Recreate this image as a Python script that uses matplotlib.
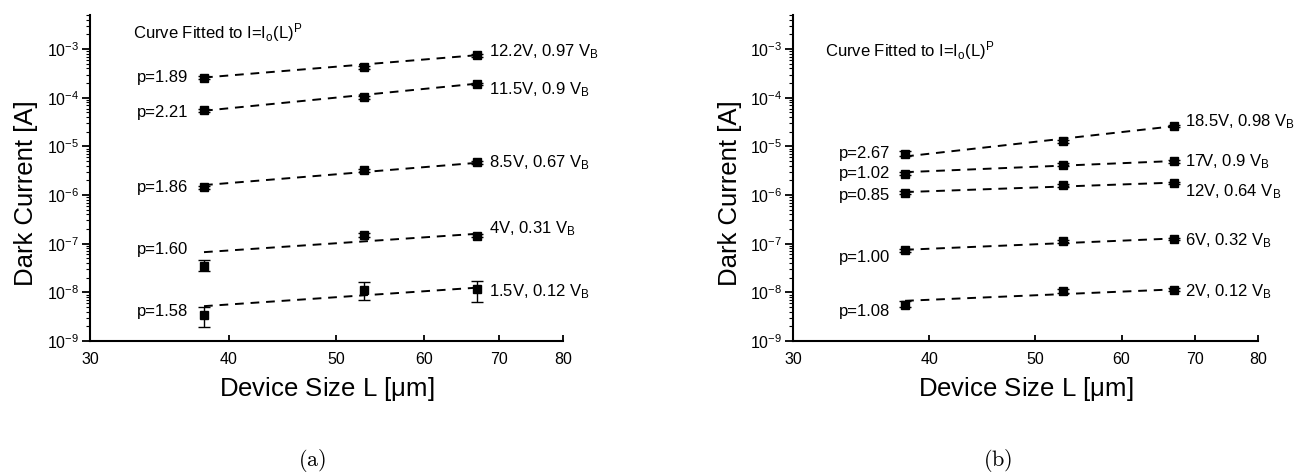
import numpy as np
import matplotlib
matplotlib.use("Agg")
import matplotlib.pyplot as plt
from matplotlib.ticker import FixedLocator, FixedFormatter, LogLocator, NullLocator, LogFormatterMathtext, NullFormatter

plt.rcParams['font.family'] = ['Liberation Sans', 'DejaVu Sans']
plt.rcParams['mathtext.fontset'] = 'custom'
plt.rcParams['mathtext.rm'] = 'Liberation Sans'
plt.rcParams['mathtext.it'] = 'Liberation Sans'
plt.rcParams['mathtext.bf'] = 'Liberation Sans'

# ---------------- data ----------------
sizes = [38, 53, 67]
x_ticks = [30, 40, 50, 60, 70, 80]

# panel (a)
a_labels = ["12.2V, 0.97 V", "11.5V, 0.9 V", "8.5V, 0.67 V", "4V, 0.31 V", "1.5V, 0.12 V"]
a_p = ["p=1.89", "p=2.21", "p=1.86", "p=1.60", "p=1.58"]
a_I = [[2.6e-4, 4.2e-4, 7.4e-4],
       [5.5e-5, 1.02e-4, 1.9e-4],
       [1.45e-6, 3.2e-6, 4.7e-6],
       [3.5e-8, 1.5e-7, 1.45e-7],
       [3.4e-9, 1.1e-8, 1.15e-8]]
a_lo = [[2.4e-4, 3.9e-4, 6.9e-4],
        [5.1e-5, 0.95e-4, 1.8e-4],
        [1.35e-6, 3.0e-6, 4.4e-6],
        [2.7e-8, 1.35e-7, 1.35e-7],
        [1.9e-9, 7.0e-9, 6.4e-9]]
a_hi = [[2.8e-4, 4.5e-4, 7.9e-4],
        [5.9e-5, 1.09e-4, 2.0e-4],
        [1.55e-6, 3.4e-6, 5.0e-6],
        [4.6e-8, 1.65e-7, 1.55e-7],
        [5.0e-9, 1.6e-8, 1.7e-8]]
a_fit = [[2.6e-4, 7.5e-4],
         [5.4e-5, 1.95e-4],
         [1.6e-6, 4.6e-6],
         [6.7e-8, 1.6e-7],
         [5.2e-9, 1.25e-8]]

# panel (b)
b_labels = ["18.5V, 0.98 V", "17V, 0.9 V", "12V, 0.64 V", "6V, 0.32 V", "2V, 0.12 V"]
b_p = ["p=2.67", "p=1.02", "p=0.85", "p=1.00", "p=1.08"]
b_I = [[7.1e-6, 1.27e-5, 2.65e-5],
       [2.75e-6, 4.2e-6, 4.9e-6],
       [1.12e-6, 1.58e-6, 1.78e-6],
       [7.3e-8, 1.12e-7, 1.27e-7],
       [5.6e-9, 1.07e-8, 1.14e-8]]
b_lo = [[6.3e-6, 1.18e-5, 2.5e-5],
        [2.55e-6, 3.95e-6, 4.65e-6],
        [1.03e-6, 1.48e-6, 1.68e-6],
        [6.8e-8, 1.04e-7, 1.2e-7],
        [4.9e-9, 9.8e-9, 1.06e-8]]
b_hi = [[8.0e-6, 1.37e-5, 2.8e-5],
        [2.95e-6, 4.45e-6, 5.15e-6],
        [1.21e-6, 1.68e-6, 1.88e-6],
        [7.8e-8, 1.2e-7, 1.34e-7],
        [6.5e-9, 1.17e-8, 1.22e-8]]
b_fit = [[6.2e-6, 2.6e-5],
         [2.95e-6, 5.0e-6],
         [1.15e-6, 1.8e-6],
         [7.5e-8, 1.28e-7],
         [6.7e-9, 1.15e-8]]

# label offsets (log10 shift of text relative to first/last point)
a_p_off = [0.0, -0.05, 0.0, 0.33, 0.08]
a_lab_off = [0.08, -0.12, 0.0, 0.15, -0.05]
b_p_off = [0.0, 0.0, -0.05, -0.15, -0.15]
b_lab_off = [0.08, 0.0, -0.18, -0.05, -0.05]

fig = plt.figure(figsize=(12.99, 4.72), dpi=100)
axA = fig.add_axes([90/1299, 1-341/472, (563-90)/1299, (341-15)/472])
axB = fig.add_axes([793/1299, 1-341/472, (1258-793)/1299, (341-15)/472])


def draw(ax, I, lo, hi, fit, plabels, vlabels, p_off, lab_off):
    for k in range(len(I)):
        y = np.array(I[k])
        yerr = [y - np.array(lo[k]), np.array(hi[k]) - y]
        ax.plot([sizes[0], sizes[-1]], fit[k], ls=(0, (4.5, 3.5)), color='black', lw=1.4, zorder=2)
        ax.errorbar(sizes, y, yerr=yerr, fmt='s', color='black', ms=5.5,
                    capsize=4, elinewidth=1.0, capthick=1.0, zorder=3)
        ax.text(sizes[0] - 1.2, y[0] * 10**p_off[k], plabels[k], ha='right', va='center', fontsize=12)
        ax.text(sizes[-1] + 1.6, y[-1] * 10**lab_off[k],
                vlabels[k] + r"$_{\mathregular{B}}$", ha='left', va='center', fontsize=12)
    ax.set_xscale('log')
    ax.set_yscale('log')
    ax.set_xlim(30, 80)
    ax.set_ylim(1e-9, 10**-2.3)
    ax.xaxis.set_major_locator(FixedLocator(x_ticks))
    ax.xaxis.set_major_formatter(FixedFormatter([str(t) for t in x_ticks]))
    ax.xaxis.set_minor_locator(NullLocator())
    ax.yaxis.set_major_locator(LogLocator(base=10, numticks=20))
    ax.yaxis.set_minor_locator(LogLocator(base=10, subs=np.arange(2, 10), numticks=20))
    ax.yaxis.set_minor_formatter(NullFormatter())
    ax.yaxis.set_major_formatter(LogFormatterMathtext())
    ax.spines['top'].set_visible(False)
    ax.spines['right'].set_visible(False)
    ax.spines['left'].set_linewidth(1.5)
    ax.spines['bottom'].set_linewidth(1.5)
    ax.tick_params(axis='x', direction='in', length=4, width=1.3, labelsize=11.5, pad=8)
    ax.tick_params(axis='y', which='major', direction='out', length=6, width=1.3, labelsize=11.5, pad=2)
    ax.tick_params(axis='y', which='minor', direction='out', length=3, width=0.8)
    ax.set_xlabel(r"Device Size L [$\mathregular{\mu}$m]", fontsize=18.5, labelpad=6)
    ax.set_ylabel("Dark Current [A]", fontsize=18.5)
    ax.yaxis.set_label_coords(-0.11, 0.455)


draw(axA, a_I, a_lo, a_hi, a_fit, a_p, a_labels, a_p_off, a_lab_off)
draw(axB, b_I, b_lo, b_hi, b_fit, b_p, b_labels, b_p_off, b_lab_off)

axA.text(0.091, 0.945, r"Curve Fitted to I=I$_{\mathregular{o}}$(L)$^{\mathregular{P}}$",
         transform=axA.transAxes, fontsize=12, ha='left', va='center')
axB.text(0.069, 0.89, r"Curve Fitted to I=I$_{\mathregular{o}}$(L)$^{\mathregular{P}}$",
         transform=axB.transAxes, fontsize=12, ha='left', va='center')

fig.text(312/1299, 1-460/472, r"$\mathrm{(a)}$", fontsize=16, math_fontfamily='cm', ha='center', va='center')
fig.text(998/1299, 1-460/472, r"$\mathrm{(b)}$", fontsize=16, math_fontfamily='cm', ha='center', va='center')

fig.savefig("out.png", dpi=100)
